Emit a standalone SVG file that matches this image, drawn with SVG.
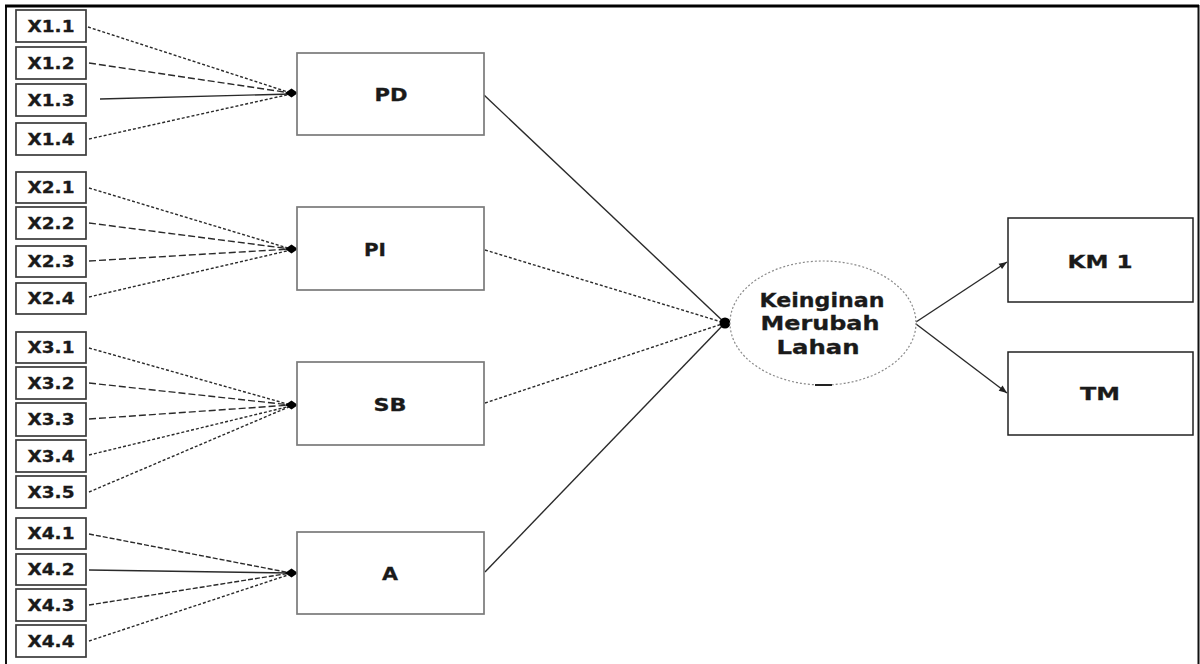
<svg xmlns="http://www.w3.org/2000/svg" width="1200" height="664" viewBox="0 0 1200 664">
<style>
.ind{fill:#fff;stroke:#3a3a3a;stroke-width:1.7}
.con{fill:#fff;stroke:#7a7a7a;stroke-width:1.7}
.t{font-family:"DejaVu Sans",Verdana,sans-serif;font-weight:bold;fill:#1a1a1a;text-anchor:middle;stroke:#1a1a1a;stroke-width:0.3}
.it{font-size:15px}
.ct{font-size:18px}
.et{font-size:19px}
.l{fill:none;stroke:#2a2a2a;stroke-width:1.4}
.d1{stroke-dasharray:3 2}
.d2{stroke-dasharray:7 3}
.d3{stroke-dasharray:5 2}
</style>
<defs>
<marker id="arr" viewBox="0 0 10 10" refX="10" refY="5" markerWidth="10" markerHeight="8" markerUnits="userSpaceOnUse" orient="auto">
<path d="M0,1 L10,5 L0,9 Z" fill="#222"/>
</marker>
</defs>
<rect width="1200" height="664" fill="#fff"/>
<path d="M6,664 V6 H1198.5 V664" fill="none" stroke="#111" stroke-width="2"/>
<line x1="5" y1="6" x2="1199" y2="6" stroke="#000" stroke-width="3"/>

<g id="connectors">
<line class="l d1" x1="88" y1="27" x2="291" y2="93"/>
<line class="l d2" x1="89" y1="63" x2="291" y2="93"/>
<line class="l" x1="100" y1="99" x2="291" y2="94"/>
<line class="l d1" x1="89" y1="139" x2="291" y2="94"/>

<line class="l d1" x1="89" y1="188" x2="291" y2="249"/>
<line class="l d2" x1="89" y1="223" x2="291" y2="249"/>
<line class="l d2" x1="89" y1="261" x2="291" y2="249"/>
<line class="l d1" x1="89" y1="297" x2="291" y2="250"/>

<line class="l d1" x1="89" y1="348" x2="291" y2="405"/>
<line class="l d2" x1="89" y1="383" x2="291" y2="405"/>
<line class="l d2" x1="89" y1="419" x2="291" y2="405"/>
<line class="l d1" x1="89" y1="455" x2="291" y2="406"/>
<line class="l d1" x1="89" y1="492" x2="291" y2="406"/>

<line class="l d3" x1="89" y1="534" x2="291" y2="573"/>
<line class="l" x1="89" y1="570" x2="291" y2="573"/>
<line class="l d3" x1="89" y1="605" x2="291" y2="573"/>
<line class="l d1" x1="89" y1="641" x2="291" y2="574"/>

<g fill="#000">
<path d="M285,93 L291.5,88.5 L298,93 L291.5,97.5 Z"/>
<path d="M285,249 L291.5,244.5 L298,249 L291.5,253.5 Z"/>
<path d="M285,405 L291.5,400.5 L298,405 L291.5,409.5 Z"/>
<path d="M285,573 L291.5,568.5 L298,573 L291.5,577.5 Z"/>
</g>

<line class="l" x1="484" y1="95" x2="725" y2="323"/>
<line class="l d1" x1="485" y1="250" x2="725" y2="323"/>
<line class="l d1" x1="485" y1="403" x2="725" y2="323"/>
<line class="l" x1="485" y1="572" x2="725" y2="323"/>
<circle cx="725" cy="323" r="5.5" fill="#000"/>

<line class="l" x1="916" y1="322" x2="1007" y2="262" marker-end="url(#arr)"/>
<line class="l" x1="916" y1="324" x2="1007" y2="393" marker-end="url(#arr)"/>
</g>

<g id="X1.1"><rect class="ind" x="16" y="10" width="70" height="32"/><text class="t it" x="51" y="31.5" textLength="47" lengthAdjust="spacingAndGlyphs">X1.1</text></g>
<g id="X1.2"><rect class="ind" x="16" y="47" width="70" height="32"/><text class="t it" x="51" y="68.5" textLength="47" lengthAdjust="spacingAndGlyphs">X1.2</text></g>
<g id="X1.3"><rect class="ind" x="16" y="84" width="70" height="32"/><text class="t it" x="51" y="105.5" textLength="47" lengthAdjust="spacingAndGlyphs">X1.3</text></g>
<g id="X1.4"><rect class="ind" x="16" y="123" width="70" height="32"/><text class="t it" x="51" y="144.5" textLength="47" lengthAdjust="spacingAndGlyphs">X1.4</text></g>

<g id="X2.1"><rect class="ind" x="16" y="172" width="70" height="31"/><text class="t it" x="51" y="193" textLength="47" lengthAdjust="spacingAndGlyphs">X2.1</text></g>
<g id="X2.2"><rect class="ind" x="16" y="207" width="70" height="32"/><text class="t it" x="51" y="228.5" textLength="47" lengthAdjust="spacingAndGlyphs">X2.2</text></g>
<g id="X2.3"><rect class="ind" x="16" y="246" width="70" height="31"/><text class="t it" x="51" y="267" textLength="47" lengthAdjust="spacingAndGlyphs">X2.3</text></g>
<g id="X2.4"><rect class="ind" x="16" y="283" width="70" height="31"/><text class="t it" x="51" y="304" textLength="47" lengthAdjust="spacingAndGlyphs">X2.4</text></g>

<g id="X3.1"><rect class="ind" x="16" y="332" width="70" height="31"/><text class="t it" x="51" y="353" textLength="47" lengthAdjust="spacingAndGlyphs">X3.1</text></g>
<g id="X3.2"><rect class="ind" x="16" y="367" width="70" height="32"/><text class="t it" x="51" y="388.5" textLength="47" lengthAdjust="spacingAndGlyphs">X3.2</text></g>
<g id="X3.3"><rect class="ind" x="16" y="403" width="70" height="33"/><text class="t it" x="51" y="425" textLength="47" lengthAdjust="spacingAndGlyphs">X3.3</text></g>
<g id="X3.4"><rect class="ind" x="16" y="440" width="70" height="32"/><text class="t it" x="51" y="461.5" textLength="47" lengthAdjust="spacingAndGlyphs">X3.4</text></g>
<g id="X3.5"><rect class="ind" x="16" y="476" width="70" height="32"/><text class="t it" x="51" y="497.5" textLength="47" lengthAdjust="spacingAndGlyphs">X3.5</text></g>

<g id="X4.1"><rect class="ind" x="16" y="518" width="70" height="31"/><text class="t it" x="51" y="539" textLength="47" lengthAdjust="spacingAndGlyphs">X4.1</text></g>
<g id="X4.2"><rect class="ind" x="16" y="554" width="70" height="31"/><text class="t it" x="51" y="575" textLength="47" lengthAdjust="spacingAndGlyphs">X4.2</text></g>
<g id="X4.3"><rect class="ind" x="16" y="589" width="70" height="32"/><text class="t it" x="51" y="610.5" textLength="47" lengthAdjust="spacingAndGlyphs">X4.3</text></g>
<g id="X4.4"><rect class="ind" x="16" y="625" width="70" height="32"/><text class="t it" x="51" y="646.5" textLength="47" lengthAdjust="spacingAndGlyphs">X4.4</text></g>

<g id="PD"><rect class="con" x="297" y="53" width="187" height="82"/><text class="t ct" x="391" y="101" textLength="33" lengthAdjust="spacingAndGlyphs">PD</text></g>
<g id="PI"><rect class="con" x="297" y="207" width="187" height="83"/><text class="t ct" x="375" y="256" textLength="22" lengthAdjust="spacingAndGlyphs">PI</text></g>
<g id="SB"><rect class="con" x="297" y="362" width="187" height="83"/><text class="t ct" x="390" y="411" textLength="33" lengthAdjust="spacingAndGlyphs">SB</text></g>
<g id="A"><rect class="con" x="297" y="532" width="187" height="82"/><text class="t ct" x="390" y="580" textLength="16" lengthAdjust="spacingAndGlyphs">A</text></g>

<g id="KML">
<ellipse cx="823" cy="323" rx="93" ry="62" fill="#fff" stroke="#8a8a8a" stroke-width="1.2" stroke-dasharray="2 2"/>
<line x1="815" y1="385" x2="832" y2="385" stroke="#222" stroke-width="2"/>
<text class="t et" x="822" y="307" textLength="125" lengthAdjust="spacingAndGlyphs">Keinginan</text>
<text class="t et" x="820" y="330" textLength="119" lengthAdjust="spacingAndGlyphs">Merubah</text>
<text class="t et" x="818" y="354" textLength="83" lengthAdjust="spacingAndGlyphs">Lahan</text>
</g>

<g id="KM1"><rect x="1008" y="218" width="185" height="84" fill="#fff" stroke="#222" stroke-width="1.5"/><text class="t ct" x="1100" y="268" textLength="65" lengthAdjust="spacingAndGlyphs">KM 1</text></g>
<g id="TM"><rect x="1008" y="352" width="185" height="83" fill="#fff" stroke="#222" stroke-width="1.5"/><text class="t ct" x="1100" y="400" textLength="40" lengthAdjust="spacingAndGlyphs">TM</text></g>
</svg>
